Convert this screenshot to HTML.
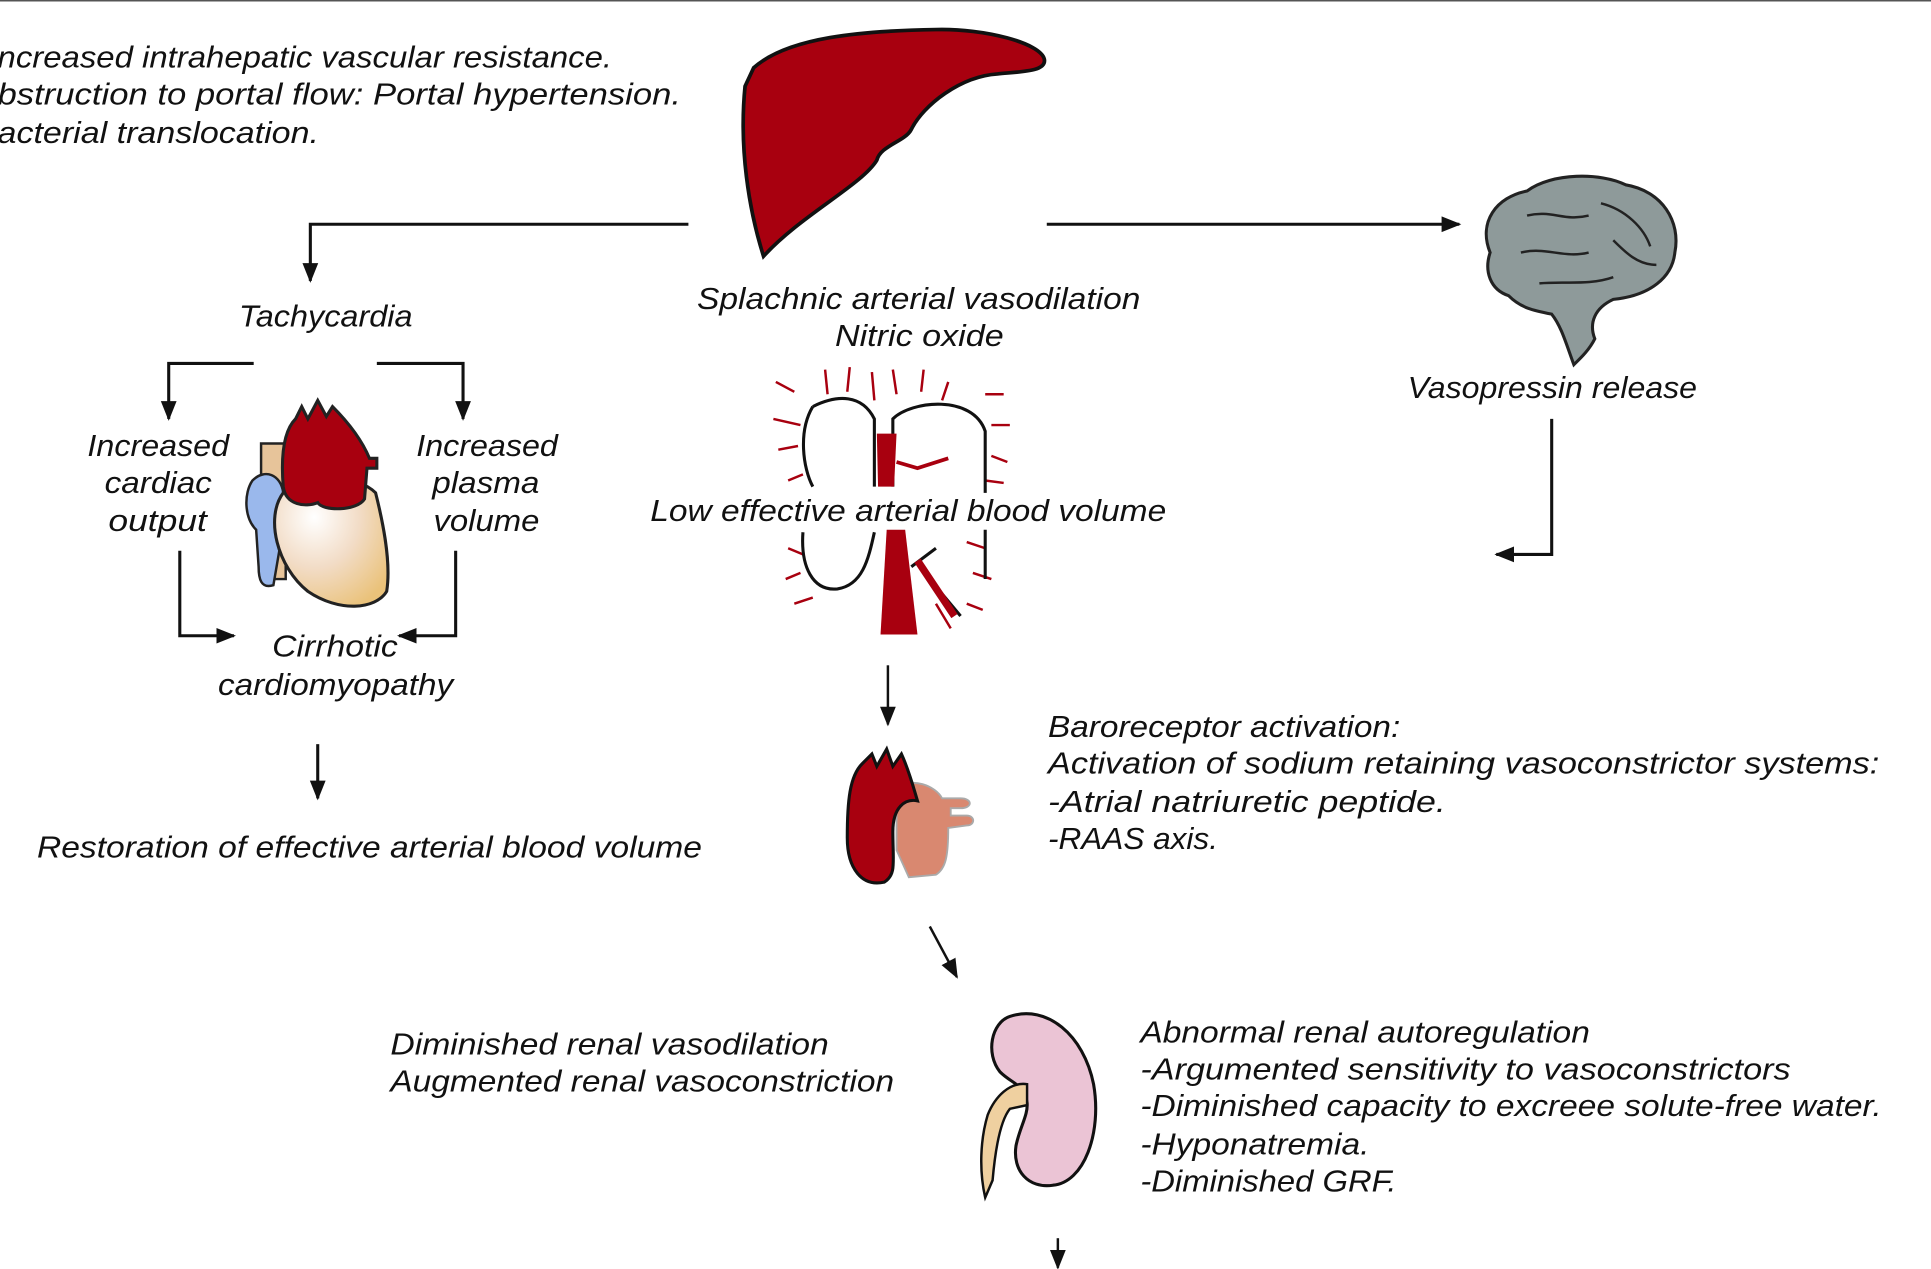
<!DOCTYPE html>
<html><head><meta charset="utf-8"><style>
html,body{margin:0;padding:0;background:#fff;}
svg{display:block;}
text{font-family:"Liberation Sans",sans-serif;font-style:italic;font-size:25px;fill:#111;}
</style></head><body>
<svg width="1931" height="1269" viewBox="0 0 1568 1030" preserveAspectRatio="none" xmlns="http://www.w3.org/2000/svg">
<defs>
<marker id="b" viewBox="0 0 10 10" refX="9" refY="5" markerWidth="16" markerHeight="16" markerUnits="userSpaceOnUse" orient="auto"><path d="M0,1 L10,5 L0,9 z" fill="#111"/></marker>
<radialGradient id="hg" cx="0.35" cy="0.3" r="0.8"><stop offset="0" stop-color="#fff"/><stop offset="0.5" stop-color="#f2dcc6"/><stop offset="1" stop-color="#eac27a"/></radialGradient>
</defs>
<rect width="1568" height="1030" fill="#fff"/>
<line x1="0" y1="0.5" x2="1568" y2="0.5" stroke="#555" stroke-width="1.5"/>

<g lengthAdjust="spacingAndGlyphs">
<text x="-2" y="55" textLength="499" lengthAdjust="spacingAndGlyphs">ncreased intrahepatic vascular resistance.</text>
<text x="-2" y="85" textLength="555" lengthAdjust="spacingAndGlyphs">bstruction to portal flow: Portal hypertension.</text>
<text x="-2" y="116" textLength="261" lengthAdjust="spacingAndGlyphs">acterial translocation.</text>
</g>

<!-- liver -->
<path d="M612,55 C640,30 700,25 760,24 C800,23 845,35 848,48 C850,58 830,58 810,60 C780,62 750,85 740,105 C735,115 715,118 712,130 C700,150 650,175 620,208 C608,170 600,120 605,70 Z" fill="#a8000f" stroke="#111" stroke-width="3"/>

<!-- brain -->
<path d="M1210,205 C1200,180 1215,160 1240,155 C1260,140 1300,140 1320,150 C1350,155 1365,180 1360,205 C1358,225 1340,240 1310,243 C1295,250 1290,262 1295,275 C1290,285 1282,292 1278,296 C1272,280 1268,265 1260,255 C1245,252 1235,250 1225,240 C1210,235 1205,220 1210,205 Z" fill="#8e9a9a" stroke="#222" stroke-width="2.5"/>
<path d="M1240,175 C1260,170 1270,180 1290,175 M1300,165 C1320,170 1335,185 1340,200 M1235,205 C1255,200 1270,210 1290,205 M1250,230 C1270,228 1290,232 1310,225 M1310,195 C1320,205 1330,215 1345,215" fill="none" stroke="#222" stroke-width="2"/>

<polyline points="559,182 252,182 252,228" fill="none" stroke="#111" stroke-width="2.5" marker-end="url(#b)"/>
<line x1="850" y1="182" x2="1185" y2="182" stroke="#111" stroke-width="2.5" marker-end="url(#b)"/>

<text x="194" y="265" textLength="141" lengthAdjust="spacingAndGlyphs">Tachycardia</text>
<text x="566" y="251" textLength="360" lengthAdjust="spacingAndGlyphs">Splachnic arterial vasodilation</text>
<text x="678" y="281" textLength="137" lengthAdjust="spacingAndGlyphs">Nitric oxide</text>
<text x="1143" y="323" textLength="235" lengthAdjust="spacingAndGlyphs">Vasopressin release</text>

<polyline points="206,295 137,295 137,340" fill="none" stroke="#111" stroke-width="2.5" marker-end="url(#b)"/>
<polyline points="306,295 376,295 376,340" fill="none" stroke="#111" stroke-width="2.5" marker-end="url(#b)"/>

<text x="71" y="370" textLength="115" lengthAdjust="spacingAndGlyphs">Increased</text>
<text x="85" y="400" textLength="87" lengthAdjust="spacingAndGlyphs">cardiac</text>
<text x="88" y="431" textLength="80" lengthAdjust="spacingAndGlyphs">output</text>
<text x="338" y="370" textLength="115" lengthAdjust="spacingAndGlyphs">Increased</text>
<text x="351" y="400" textLength="87" lengthAdjust="spacingAndGlyphs">plasma</text>
<text x="352" y="431" textLength="86" lengthAdjust="spacingAndGlyphs">volume</text>

<!-- heart -->
<path d="M212,360 L232,360 L232,470 L212,470 Z" fill="#e7c49a" stroke="#222" stroke-width="2"/>
<path d="M205,390 C215,380 228,385 230,400 L228,440 L222,475 C212,478 210,470 210,460 L208,430 C198,420 198,400 205,390 Z" fill="#9ab8ec" stroke="#222" stroke-width="2"/>
<path d="M230,400 C215,420 225,460 250,480 C275,497 305,495 314,480 C318,455 310,420 305,400 C290,385 255,385 230,400 Z" fill="url(#hg)" stroke="#222" stroke-width="2.5"/>
<path d="M240,340 L245,330 L250,340 L258,325 L265,338 L270,330 C285,345 295,360 300,372 L306,372 L306,380 L298,380 L296,405 C290,415 262,415 258,408 C248,412 232,410 230,395 C228,370 230,350 240,340 Z" fill="#a8000f" stroke="#222" stroke-width="2.5"/>

<polyline points="146,447 146,516 190,516" fill="none" stroke="#111" stroke-width="2.5" marker-end="url(#b)"/>
<polyline points="370,447 370,516 324,516" fill="none" stroke="#111" stroke-width="2.5" marker-end="url(#b)"/>
<text x="221" y="533" textLength="102" lengthAdjust="spacingAndGlyphs">Cirrhotic</text>
<text x="177" y="564" textLength="191" lengthAdjust="spacingAndGlyphs">cardiomyopathy</text>
<line x1="258" y1="604" x2="258" y2="648" stroke="#111" stroke-width="2.5" marker-end="url(#b)"/>
<text x="30" y="696" textLength="540" lengthAdjust="spacingAndGlyphs">Restoration of effective arterial blood volume</text>

<!-- vessels -->
<g fill="none" stroke="#a8000f" stroke-width="2">
<path d="M630,310 L645,318 M628,340 L650,345 M632,365 L648,362 M640,390 L652,385 M670,300 L672,320 M690,298 L688,318 M708,302 L710,325 M725,300 L728,320 M750,300 L748,318 M770,310 L765,325 M800,320 L815,320 M805,345 L820,345 M805,370 L818,375 M800,390 L815,392 M640,445 L652,450 M638,470 L650,465 M645,490 L660,485 M785,440 L800,445 M790,465 L805,470 M785,490 L798,495 M760,490 L772,510"/>
</g>
<path d="M660,330 C680,320 700,320 710,340 L710,395 M725,395 L725,340 C740,325 790,320 800,350 L800,400 M660,330 C648,350 652,380 660,395" fill="none" stroke="#111" stroke-width="2.5"/>
<path d="M712,352 L728,352 L726,395 L713,395 Z" fill="#a8000f"/>
<path d="M728,375 L745,380 L770,372" fill="none" stroke="#a8000f" stroke-width="3"/>
<path d="M720,430 L735,430 L745,515 L715,515 Z" fill="#a8000f"/>
<path d="M652,432 C650,460 660,480 680,478 C700,475 705,455 710,432 M800,430 L800,470 M740,460 L760,445 M755,470 L780,500" fill="none" stroke="#111" stroke-width="2.5"/>
<path d="M745,455 L775,500" stroke="#a8000f" stroke-width="6"/>
<text x="528" y="423" textLength="419" lengthAdjust="spacingAndGlyphs">Low effective arterial blood volume</text>

<polyline points="1260,340 1260,450 1215,450" fill="none" stroke="#111" stroke-width="2.5" marker-end="url(#b)"/>
<line x1="721" y1="540" x2="721" y2="588" stroke="#111" stroke-width="2" marker-end="url(#b)"/>

<!-- small heart -->
<path d="M728,690 L728,640 C740,630 760,638 765,648 L780,648 C790,648 790,656 780,656 L772,656 L772,662 L785,662 C792,662 792,670 785,670 L770,672 C770,695 768,705 760,710 L738,712 Z" fill="#d98870" stroke="#aaa" stroke-width="1.5"/>
<path d="M700,620 L708,612 L712,622 L720,608 L725,622 L732,612 C738,625 742,640 745,650 C735,648 725,655 725,675 C725,700 728,710 718,716 C700,720 688,705 688,680 C688,650 690,630 700,620 Z" fill="#a8000f" stroke="#111" stroke-width="2.5"/>

<text x="851" y="598" textLength="286" lengthAdjust="spacingAndGlyphs">Baroreceptor activation:</text>
<text x="851" y="628" textLength="675" lengthAdjust="spacingAndGlyphs">Activation of sodium retaining vasoconstrictor systems:</text>
<text x="851" y="659" textLength="323" lengthAdjust="spacingAndGlyphs">-Atrial natriuretic peptide.</text>
<text x="851" y="689" textLength="138" lengthAdjust="spacingAndGlyphs">-RAAS axis.</text>

<line x1="755" y1="752" x2="777" y2="793" stroke="#111" stroke-width="2" marker-end="url(#b)"/>

<text x="317" y="856" textLength="356" lengthAdjust="spacingAndGlyphs">Diminished renal vasodilation</text>
<text x="317" y="886" textLength="409" lengthAdjust="spacingAndGlyphs">Augmented renal vasoconstriction</text>

<!-- kidney -->
<path d="M820,825 C850,815 880,840 888,880 C895,920 880,960 855,962 C835,965 822,950 825,930 C828,915 835,905 834,895 C832,880 822,880 812,870 C800,855 805,830 820,825 Z" fill="#ebc4d5" stroke="#111" stroke-width="2.5"/>
<path d="M834,880 C820,878 808,890 802,905 C796,925 795,950 800,972 L806,958 C808,935 812,910 820,900 L834,897 Z" fill="#efd0a0" stroke="#111" stroke-width="2"/>

<text x="926" y="846" textLength="365" lengthAdjust="spacingAndGlyphs">Abnormal renal autoregulation</text>
<text x="926" y="876" textLength="528" lengthAdjust="spacingAndGlyphs">-Argumented sensitivity to vasoconstrictors</text>
<text x="926" y="906" textLength="602" lengthAdjust="spacingAndGlyphs">-Diminished capacity to excreee solute-free water.</text>
<text x="926" y="937" textLength="186" lengthAdjust="spacingAndGlyphs">-Hyponatremia.</text>
<text x="926" y="967" textLength="208" lengthAdjust="spacingAndGlyphs">-Diminished GRF.</text>

<line x1="859" y1="1005" x2="859" y2="1029" stroke="#111" stroke-width="2" marker-end="url(#b)"/>
</svg>
</body></html>
